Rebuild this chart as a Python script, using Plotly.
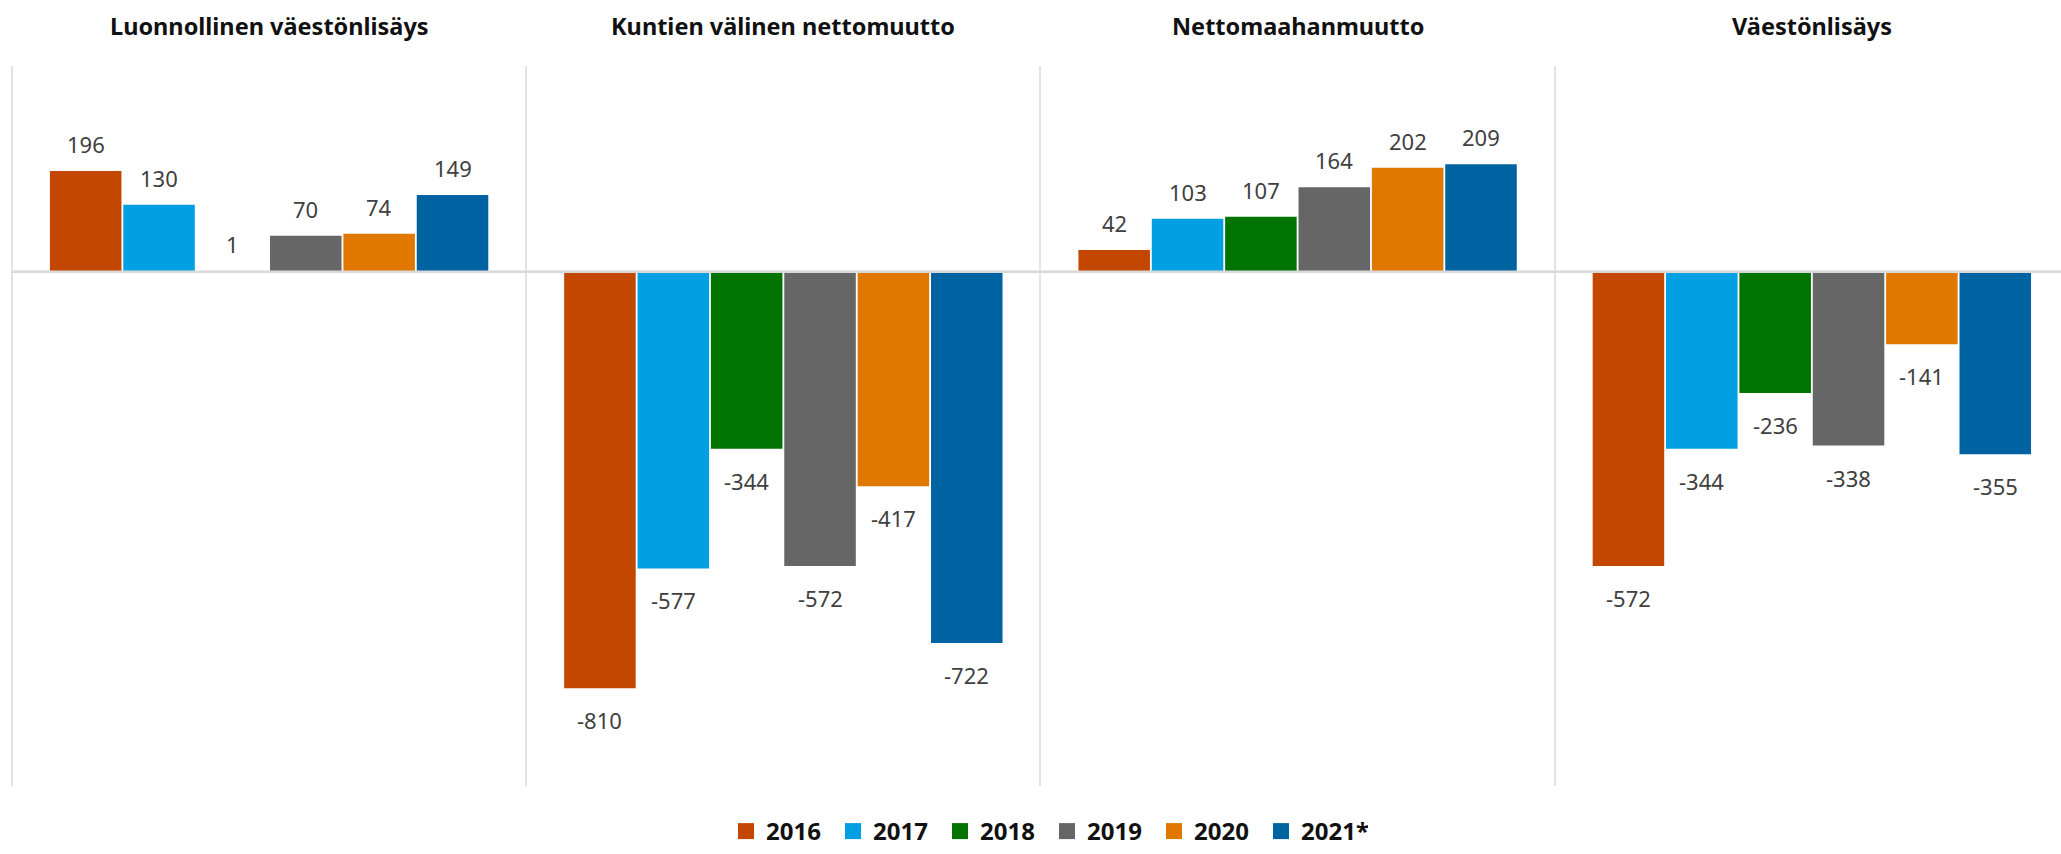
import plotly.graph_objects as go

categories = ["Luonnollinen väestönlisäys", "Kuntien välinen nettomuutto",
              "Nettomaahanmuutto", "Väestönlisäys"]
years = ["2016", "2017", "2018", "2019", "2020", "2021*"]
v2016 = [196, -810, 42, -572]
v2017 = [130, -577, 103, -344]
v2018 = [1, -344, 107, -236]
v2019 = [70, -572, 164, -338]
v2020 = [74, -417, 202, -141]
v2021 = [149, -722, 209, -355]
series = [v2016, v2017, v2018, v2019, v2020, v2021]
colors = ["#C44700", "#00A0E3", "#007300", "#666666", "#E07800", "#0063A1"]

FONT = "Segoe UI, Noto Sans, Open Sans, sans-serif"
BARGAP = 0.144
GROUPGAP = 0.025
xpos = list(range(len(categories)))

fig = go.Figure()
for name, vals, col in zip(years, series, colors):
    fig.add_trace(go.Bar(x=xpos, y=vals, name=name, marker_color=col,
                         marker_line_width=0, hoverinfo="y+name",
                         showlegend=False))
# legend entries with larger square swatches
for name, col in zip(years, colors):
    fig.add_trace(go.Scatter(x=[None], y=[None], mode="markers", name="<b>%s</b>" % name,
                             marker=dict(symbol="square", size=16, color=col),
                             showlegend=True, hoverinfo="skip"))

# data labels positioned from the grouped-bar geometry
n = len(series)
slot = (1 - BARGAP) / n
annotations = []
for i, vals in enumerate(series):
    for k, v in enumerate(vals):
        xc = k - (1 - BARGAP) / 2 + slot * (i + 0.5)
        annotations.append(dict(x=xc, y=v, xref="x", yref="y", text=str(v),
                                showarrow=False, yanchor="middle",
                                yshift=27 if v >= 0 else -32,
                                font=dict(family=FONT, size=22, color="#404040")))
for k, c in enumerate(categories):
    annotations.append(dict(x=k, y=1, xref="x", yref="paper", text="<b>%s</b>" % c,
                            showarrow=False, yanchor="middle", yshift=40,
                            font=dict(family=FONT, size=23.5, color="#111111")))

fig.update_layout(
    width=2061, height=854,
    margin=dict(l=0, r=0, t=66, b=68),
    paper_bgcolor="white", plot_bgcolor="white",
    barmode="group", bargap=BARGAP, bargroupgap=GROUPGAP,
    font=dict(family=FONT),
    annotations=annotations,
    shapes=[dict(type="line", xref="x", yref="y", x0=-0.5, x1=3.6, y0=0, y1=0,
                 line=dict(color="#D9D9D9", width=2.5), layer="above")],
    xaxis=dict(range=[-0.5233, 3.4845], tickvals=[-0.5, 0.5, 1.5, 2.5],
               showticklabels=False, showgrid=True, gridcolor="#E3E3E3",
               gridwidth=2, zeroline=False, showline=False, ticks=""),
    yaxis=dict(range=[-1000, 400], showgrid=False, zeroline=False,
               showticklabels=False, ticks="", showline=False),
    legend=dict(orientation="h", x=0.508, xanchor="center", y=-0.006,
                yref="container", yanchor="bottom",
                font=dict(family=FONT, size=24, color="#111111"),
                itemclick=False, entrywidth=62, traceorder="normal",
                itemwidth=30),
)

fig.write_html("out.html", post_script="document.body.style.margin='0';",
               config={"displayModeBar": False})
